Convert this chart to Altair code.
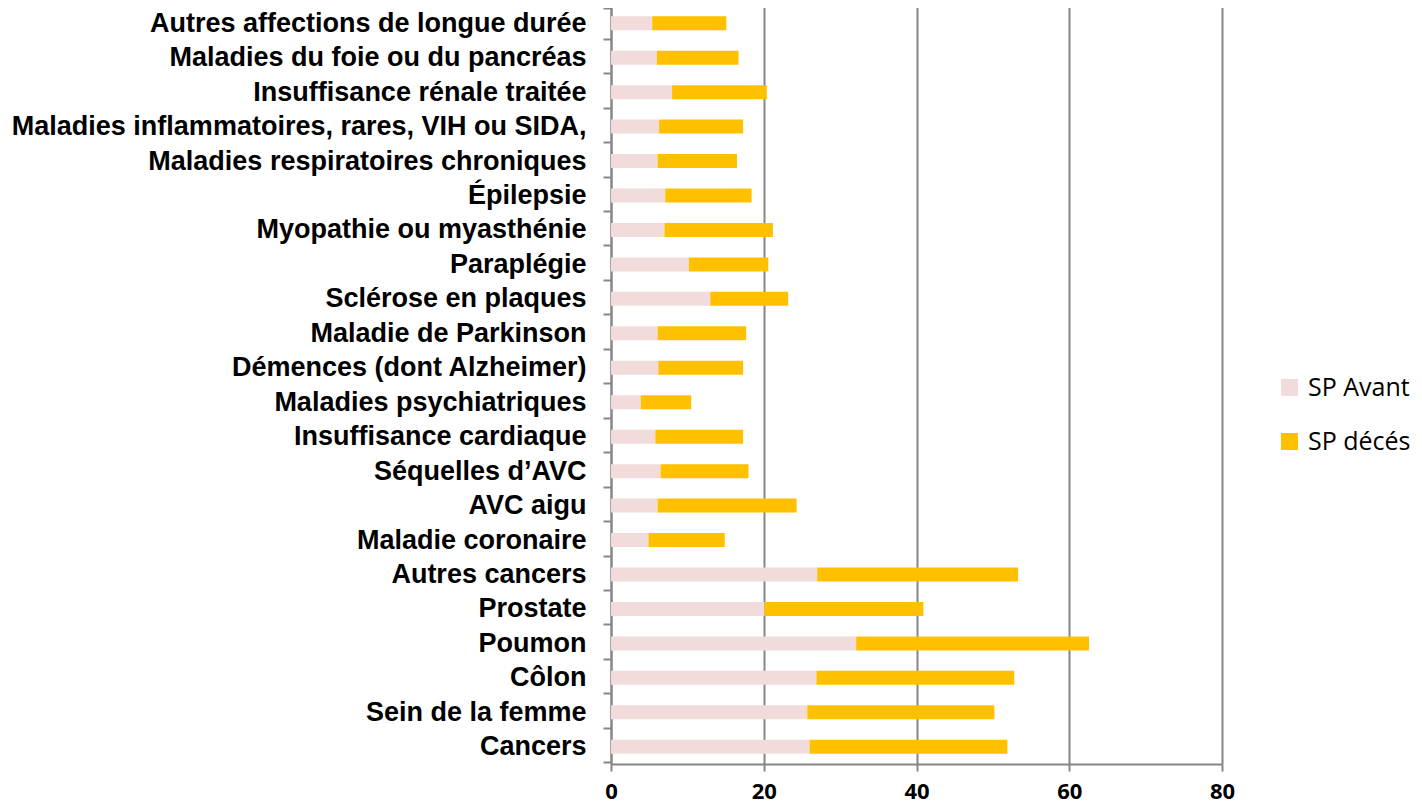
import altair as alt
import pandas as pd

categories = [
    "Autres affections de longue durée",
    "Maladies du foie ou du pancréas",
    "Insuffisance rénale traitée",
    "Maladies inflammatoires, rares, VIH ou SIDA,",
    "Maladies respiratoires chroniques",
    "Épilepsie",
    "Myopathie ou myasthénie",
    "Paraplégie",
    "Sclérose en plaques",
    "Maladie de Parkinson",
    "Démences (dont Alzheimer)",
    "Maladies psychiatriques",
    "Insuffisance cardiaque",
    "Séquelles d’AVC",
    "AVC aigu",
    "Maladie coronaire",
    "Autres cancers",
    "Prostate",
    "Poumon",
    "Côlon",
    "Sein de la femme",
    "Cancers",
]
sp_avant = [5.4, 6.0, 8.0, 6.3, 6.1, 7.1, 7.0, 10.2, 13.0, 6.1, 6.2, 3.9,
            5.8, 6.5, 6.1, 4.9, 27.0, 20.1, 32.1, 26.9, 25.7, 26.0]
sp_deces = [9.7, 10.7, 12.4, 11.0, 10.4, 11.3, 14.2, 10.4, 10.2, 11.6, 11.1, 6.6,
            11.5, 11.5, 18.2, 10.0, 26.3, 20.8, 30.5, 25.9, 24.5, 25.9]
series = ["SP Avant", "SP décés"]
colors = ["#F2DCDB", "#FFC000"]
x_ticks = [0, 20, 40, 60, 80]

rows = []
for c, a, d in zip(categories, sp_avant, sp_deces):
    rows.append({"cat": c, "serie": series[0], "val": a, "ord": 0})
    rows.append({"cat": c, "serie": series[1], "val": d, "ord": 1})
df = pd.DataFrame(rows)

grey = "#868686"

chart = alt.Chart(df).mark_bar(size=14).encode(
    y=alt.Y(
        "cat:N", sort=categories, title=None,
        axis=alt.Axis(
            domainColor=grey, domainWidth=2, tickColor=grey, tickWidth=2,
            tickSize=8, tickBand="extent", grid=False,
            labelFont="Liberation Sans", labelFontWeight="bold", labelFontSize=27,
            labelColor="#000000", labelPadding=17, labelLimit=1000,
        ),
    ),
    x=alt.X(
        "val:Q", stack="zero", title=None,
        scale=alt.Scale(domain=[0, 80], nice=False),
        axis=alt.Axis(
            values=x_ticks, domainColor=grey, domainWidth=2, tickColor=grey,
            tickWidth=2, tickSize=7, grid=True, gridColor=grey, gridWidth=2,
            labelFont="Open Sans", labelFontWeight="bold", labelFontSize=22,
            labelColor="#000000", labelPadding=10, labelFlush=False,
        ),
    ),
    color=alt.Color(
        "serie:N",
        scale=alt.Scale(domain=series, range=colors),
        legend=alt.Legend(
            title=None, orient="none", legendX=666, legendY=369,
            symbolType="square", symbolSize=289, symbolStrokeWidth=0,
            labelFont="Open Sans", labelFontSize=25, labelColor="#000000",
            labelOffset=6, rowPadding=28, labelLimit=300,
        ),
    ),
    order=alt.Order("ord:Q"),
).properties(
    width=611, height=758,
    autosize="none",
    padding={"left": 603, "top": -2, "right": 192, "bottom": 39},
).configure_view(stroke=None)

chart.save("out.html", embed_options={"renderer": "svg", "actions": False})
